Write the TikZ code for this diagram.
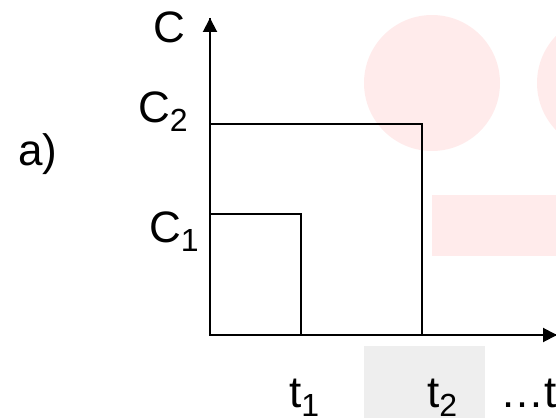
\documentclass[tikz,border=0pt]{standalone}
\usepackage{fontspec}
\setmainfont{Liberation Sans}
\usetikzlibrary{arrows.meta, positioning}
\definecolor{wmpink}{HTML}{FFEBEB}
\definecolor{wmgray}{HTML}{EEEEEE}
\newcommand{\lowsub}[1]{\raisebox{-9pt}{\fontsize{32}{32}\selectfont #1}}
\tikzset{
  axisline/.style={line width=2pt, -{Triangle[length=14pt, width=14pt]}},
  boxline/.style={line width=1.4pt},
  lbl/.style={anchor=base west, inner sep=0pt, font=\fontsize{44}{44}\selectfont}
}

\begin{document}
\begin{tikzpicture}[x=1pt, y=-1pt]
  \useasboundingbox (0,0) rectangle (556,417);
  \clip (0,0) rectangle (556,417);
  % faint background marks
  \fill[wmpink] (432,83) circle (68);
  \fill[wmpink] (605,83) circle (68);
  \fill[wmpink] (432,195) rectangle (600,256);
  \fill[wmgray] (364,346) rectangle (485,430);
  % axes
  \coordinate (origin) at (210,335);
  \coordinate (ctop) at (210,18);
  \coordinate (tend) at (557,335);
  \coordinate (c1) at (210,214);
  \coordinate (c2) at (210,124);
  \coordinate (t1) at (301,335);
  \coordinate (t2) at (422,335);
  \draw[boxline] (c1) -| (t1);
  \draw[boxline] (c2) -| (t2);
  \draw[axisline, -] (ctop) -- (origin) -- (tend);
  \draw[axisline] (origin) -- (ctop);
  \draw[axisline] (origin) -- (tend);
  % labels
  \node[lbl] (lc) at (153,43) {C};
  \node[lbl] (lctwo) at (138,122) {C\lowsub{2}};
  \node[lbl] (lcone) at (149,242) {C\lowsub{1}};
  \node[lbl] (la) at (18,165) {a)};
  \node[lbl] (ltone) at (289,407) {t\lowsub{1}};
  \node[lbl] (lttwo) at (427,407) {t\lowsub{2}};
  \node[lbl] (ltn) at (500,407) {…t};
\end{tikzpicture}
\end{document}
